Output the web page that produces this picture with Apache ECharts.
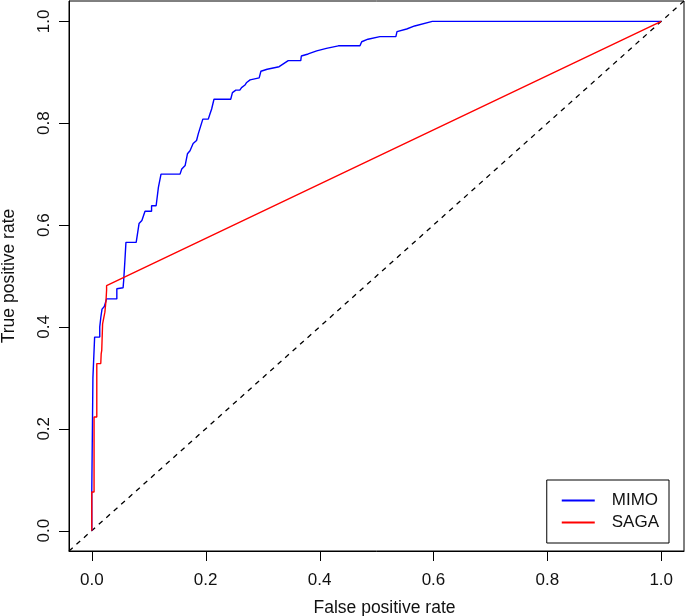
<!DOCTYPE html>
<html>
<head>
<meta charset="utf-8">
<script src="https://cdn.jsdelivr.net/npm/echarts@6/dist/echarts.min.js"></script>
<style>html,body{margin:0;padding:0;background:#fff}#c{width:685px;height:616px}</style>
</head>
<body>
<div id="c"></div>
<script>
// MIMO ROC points [FPR, TPR]
const mimoFPR = [0,0,0.002,0.002,0.005,0.005,0.014,0.014,0.016,0.018,0.018,0.022,0.026,0.044,0.044,0.055,0.056,0.058,0.06,0.078,0.083,0.088,0.0935,0.105,0.105,0.113,0.117,0.1216,0.155,0.158,0.164,0.168,0.1725,0.178,0.184,0.187,0.195,0.2046,0.2075,0.2105,0.2146,0.244,0.247,0.253,0.26,0.263,0.269,0.272,0.278,0.294,0.297,0.308,0.329,0.345,0.367,0.368,0.38,0.395,0.412,0.433,0.471,0.474,0.485,0.506,0.534,0.536,0.553,0.567,0.598,1];
const mimoTPR = [0,0.076,0.076,0.30,0.30,0.38,0.38,0.40,0.42,0.42,0.435,0.44,0.455,0.455,0.475,0.477,0.491,0.527,0.566,0.566,0.603,0.609,0.627,0.627,0.638,0.638,0.674,0.70,0.70,0.71,0.717,0.74,0.746,0.76,0.766,0.779,0.808,0.808,0.818,0.828,0.847,0.847,0.86,0.865,0.865,0.87,0.875,0.88,0.885,0.889,0.902,0.906,0.911,0.923,0.923,0.932,0.936,0.942,0.947,0.952,0.952,0.96,0.965,0.97,0.97,0.98,0.985,0.991,1.0,1.0];
// SAGA ROC points
const sagaFPR = [0,0,0.004,0.004,0.0088,0.0088,0.0158,0.0165,0.0175,0.019,0.023,0.025,0.026,0.026,1];
const sagaTPR = [0,0.076,0.076,0.223,0.223,0.328,0.328,0.347,0.354,0.406,0.429,0.452,0.472,0.481,1];
// reference diagonal
const diagX = [-0.04, 1.04];
const diagY = [-0.04, 1.04];
const axisMin = -0.04, axisMax = 1.04;
const tickValues = [0, 0.2, 0.4, 0.6, 0.8, 1.0];
const tickLabels = ["0.0", "0.2", "0.4", "0.6", "0.8", "1.0"];
const seriesNames = ["MIMO", "SAGA"];

const zip = (a, b) => a.map((v, i) => [v, b[i]]);
const font = '"Liberation Sans", Arial, Helvetica, sans-serif';
const fmt = v => { const i = tickValues.findIndex(t => Math.abs(t - v) < 1e-9); return i >= 0 ? tickLabels[i] : ''; };
const TICK = 10;

function tickSeries(isX) {
  return {
    type: 'custom', silent: true, clip: false, z: 5,
    data: tickValues.map(v => [v, v]),
    renderItem: function (params, api) {
      const v = api.value(0);
      let shape;
      if (isX) {
        const p = api.coord([v, axisMin]);
        const x = Math.round(p[0]) + 0.5;
        shape = {x1: x, y1: p[1], x2: x, y2: p[1] + TICK};
      } else {
        const p = api.coord([axisMin, v]);
        const y = Math.round(p[1]) + 0.5;
        shape = {x1: p[0], y1: y, x2: p[0] - TICK, y2: y};
      }
      return {type: 'line', shape: shape, style: {stroke: '#000', lineWidth: 1}};
    }
  };
}

const chart = echarts.init(document.getElementById('c'), null, {renderer: 'canvas'});
chart.setOption({
  animation: false,
  backgroundColor: '#fff',
  grid: {left: 69, right: 1, top: 1, bottom: 65, show: true, borderColor: '#000', borderWidth: 1,
         backgroundColor: 'transparent', containLabel: false, outerBoundsMode: 'none'},
  xAxis: {
    type: 'value', min: axisMin, max: axisMax,
    name: 'False positive rate', nameLocation: 'middle', nameGap: 48,
    nameTextStyle: {fontFamily: font, fontSize: 17.5, color: '#111', padding: [0, 0, 0, 16]},
    axisLine: {show: true, onZero: false, lineStyle: {color: '#000', width: 1}},
    splitLine: {show: false},
    axisTick: {show: false},
    axisLabel: {margin: 21, fontFamily: font, fontSize: 17, color: '#111', customValues: tickValues, formatter: fmt}
  },
  yAxis: {
    type: 'value', min: axisMin, max: axisMax,
    name: 'True positive rate', nameLocation: 'middle', nameGap: 51,
    nameTextStyle: {fontFamily: font, fontSize: 17.5, color: '#111'},
    axisLine: {show: true, onZero: false, lineStyle: {color: '#000', width: 1}},
    splitLine: {show: false},
    axisTick: {show: false},
    axisLabel: {margin: 16, rotate: 90, fontFamily: font, fontSize: 17, color: '#111', customValues: tickValues, formatter: fmt}
  },
  legend: {
    data: seriesNames,
    orient: 'vertical', right: 16, bottom: 73,
    backgroundColor: '#fff',
    borderColor: '#000', borderWidth: 1, borderRadius: 0,
    padding: [12, 10, 12, 15],
    itemGap: 5, itemWidth: 33, itemHeight: 2, icon: 'rect',
    textStyle: {fontFamily: font, fontSize: 17, color: '#111', padding: [0, 0, 0, 12]}
  },
  series: [
    {type: 'line', name: 'diag', data: zip(diagX, diagY), showSymbol: false, silent: true,
     lineStyle: {color: '#000', width: 1.3, type: [5, 5]}, itemStyle: {color: '#000'}, z: 1},
    {type: 'line', name: seriesNames[0], data: zip(mimoFPR, mimoTPR), showSymbol: false,
     lineStyle: {color: '#0000ff', width: 1.4}, itemStyle: {color: '#0000ff'}, z: 2},
    {type: 'line', name: seriesNames[1], data: zip(sagaFPR, sagaTPR), showSymbol: false,
     lineStyle: {color: '#ff0000', width: 1.4}, itemStyle: {color: '#ff0000'}, z: 3},
    tickSeries(true),
    tickSeries(false)
  ]
});
</script>
</body>
</html>
